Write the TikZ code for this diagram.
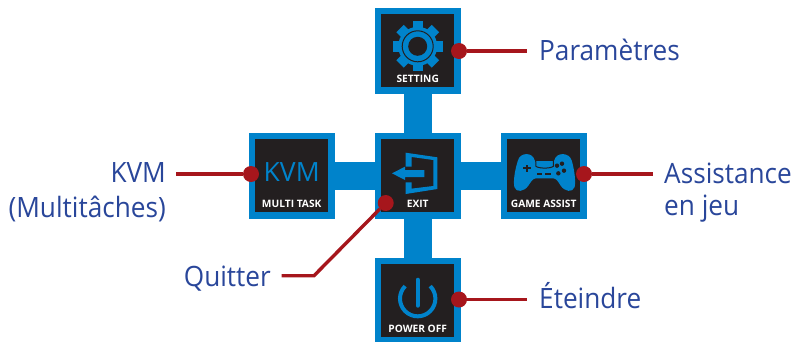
\documentclass[tikz,border=0pt]{standalone}
\usepackage{fontspec}
\setmainfont{Open Sans}
\newfontfamily\labelfont[FakeStretch=0.935]{Open Sans}
\definecolor{bluem}{HTML}{0083CB}
\definecolor{darkm}{HTML}{231F20}
\definecolor{redm}{HTML}{A6161C}
\definecolor{navym}{HTML}{29469A}
\tikzset{
  x=1pt,y=-1pt,
  outerbox/.style={fill=bluem,draw=none,minimum size=86pt,inner sep=0pt,outer sep=0pt},
  innerbox/.style={fill=darkm,draw=none,minimum size=73pt,inner sep=0pt,outer sep=0pt},
  captext/.style={text=white,font=\fontsize{10.2}{12}\selectfont\bfseries,inner sep=0pt,anchor=base},
  reddot/.style={circle,fill=redm,draw=none,minimum size=16pt,inner sep=0pt,outer sep=0pt},
  redline/.style={draw=redm,line width=3.4pt},
  lab/.style={text=navym,font=\labelfont\fontsize{28}{33}\selectfont,inner sep=0pt},
}
\begin{document}
\begin{tikzpicture}
\useasboundingbox (0,0) rectangle (794,341);
% connecting bars
\node[outerbox] (setOut) at (418,51) {};
\node[outerbox] (kvmOut) at (292,176) {};
\node[outerbox] (exitOut) at (418,176) {};
\node[outerbox] (gameOut) at (544,176) {};
\node[outerbox] (powOut) at (418,301) {};
\fill[bluem] (404,90) rectangle (432,262);
\fill[bluem] (330,162) rectangle (506,189.5);
\node[innerbox] (setIn) at (417.7,50.5) {};
\node[innerbox] (kvmIn) at (291.7,175.5) {};
\node[innerbox] (exitIn) at (417.7,175.5) {};
\node[innerbox] (gameIn) at (543.7,175.5) {};
\node[innerbox] (powIn) at (417.7,300.5) {};
% captions
\node[captext] (capSet) at (417.7,82) {SETTING};
\node[captext] (capKvm) at (291.7,207) {MULTI TASK};
\node[captext] (capExit) at (417.7,207) {EXIT};
\node[captext] (capGame) at (543.7,207) {GAME ASSIST};
\node[captext] (capPow) at (417.7,332) {POWER OFF};
% gear
\begin{scope}[shift={(417.7,46.3)}]
  \foreach \a in {0,45,...,315}{
    \fill[bluem,rotate=\a] (-5.2,-25) rectangle (5.2,0);
  }
  \fill[bluem] (0,0) circle[radius=19.5pt];
  \draw[darkm,line width=1pt] (0,0) circle[radius=15.5pt];
  \fill[darkm] (0,0) circle[radius=9.5pt];
\end{scope}
% KVM
\node[text=bluem,font=\fontsize{26.5}{30}\selectfont,inner sep=0pt,anchor=base] (kvmTxt) at (291.7,181.7) {KVM};
% exit icon
\fill[bluem] (405.7,152.7) -- (437.3,157.3) -- (437.3,189) -- (405.7,194) -- (405.7,182.3) -- (411.7,182.3) -- (411.7,188.6) -- (433.3,186) -- (433.3,160) -- (411.7,157) -- (411.7,166.7) -- (405.7,166.7) -- cycle;
\fill[bluem] (392,173.3) -- (405,166.7) -- (405,170) -- (424.3,170) -- (424.3,177) -- (405,177) -- (405,180) -- cycle;
% gamepad
\begin{scope}[shift={(490,125)},x=0.3333pt,y=-0.3333pt]
  \fill[bluem] (84,106) .. controls (90,82) and (128,80) .. (134,106) -- (193,106) .. controls (199,80) and (238,82) .. (245,106)
     .. controls (252,130) and (258,165) .. (254,186) .. controls (248,204) and (224,200) .. (212,182) .. controls (205,170) and (198,160) .. (190,160)
     -- (138,160) .. controls (128,160) and (122,172) .. (115,182) .. controls (103,200) and (78,204) .. (73,186)
     .. controls (69,165) and (76,130) .. (84,106) -- cycle;
  \fill[bluem] (134,100) rectangle (193,110);
  \fill[darkm] (134,100) rectangle (193,107);
  \draw[darkm,line width=1pt] (137,105) -- (138,124) .. controls (146,131) and (182,131) .. (190,124) -- (190,105);
  \fill[darkm] (100,127) rectangle (122,133);
  \fill[darkm] (108,119) rectangle (114,141);
  \fill[darkm] (140,144) rectangle (157,149);
  \fill[darkm] (166,144) rectangle (183,149);
  \fill[darkm] (201,122) circle[radius=2.2pt];
  \fill[darkm] (216,116) circle[radius=2.2pt];
  \fill[darkm] (222,137) circle[radius=2.2pt];
  \fill[darkm] (205,145) circle[radius=2.2pt];
\end{scope}
% power
\draw[bluem,line width=4pt] (430.2,286.1) arc[start angle=45,end angle=-225,radius=17.7pt];
\draw[bluem,line width=4.2pt,line cap=round] (417.7,279.8) -- (417.7,305.6);
% dots
\node[reddot] (dotSet) at (459,51) {};
\node[reddot] (dotKvm) at (251,174) {};
\node[reddot] (dotExit) at (385.7,203) {};
\node[reddot] (dotGame) at (584,174) {};
\node[reddot] (dotPow) at (459,299.5) {};
% line ends
\coordinate (endSet) at (527,51);
\coordinate (endKvm) at (176,174);
\coordinate (endGame) at (653,174);
\coordinate (bendExit) at (314,275.7);
\coordinate (endExit) at (281.7,275.7);
\coordinate (endPow) at (527,299.5);
\draw[redline] (dotSet) -- (endSet);
\draw[redline] (dotKvm) -- (endKvm);
\draw[redline] (dotGame) -- (endGame);
\draw[redline] (dotPow) -- (endPow);
\draw[redline] (dotExit) -- (bendExit) -- (endExit);
% labels
\node[lab,anchor=base west] (labSet) at (539,60) {Paramètres};
\node[lab,anchor=base east] (labKvm) at (166,182) {KVM};
\node[lab,anchor=base east] (labMul) at (166,217) {(Multitâches)};
\node[lab,anchor=base west] (labAss) at (664,183) {Assistance};
\node[lab,anchor=base west] (labJeu) at (664,215) {en jeu};
\node[lab,anchor=base east] (labQui) at (271,286) {Quitter};
\node[lab,anchor=base west] (labEte) at (539,308) {Éteindre};
\end{tikzpicture}
\end{document}
